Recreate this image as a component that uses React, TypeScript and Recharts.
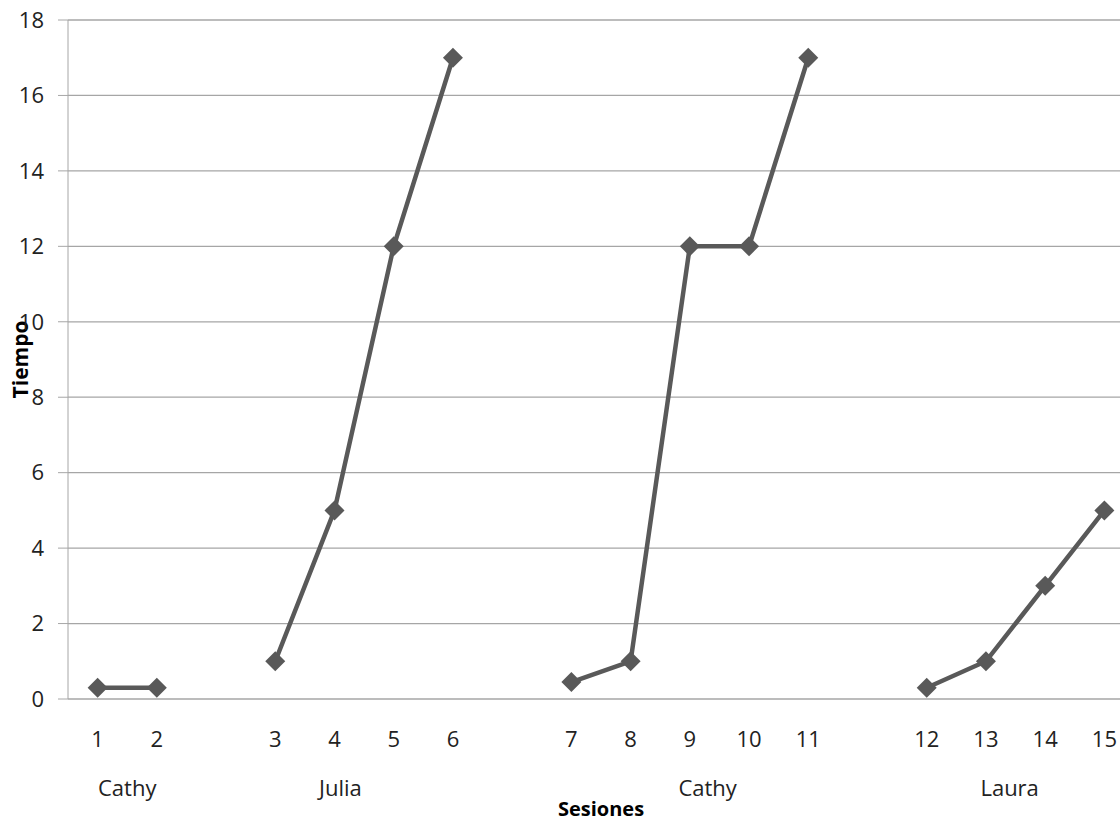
import React from 'react';
import { LineChart, Line, XAxis, YAxis, CartesianGrid } from 'recharts';

// Session labels per category slot (null = empty gap slot between groups)
const sessions: (string | null)[] = ['1', '2', null, '3', '4', '5', '6', null, '7', '8', '9', '10', '11', null, '12', '13', '14', '15'];
// Tiempo values per slot
const tiempo: (number | null)[] = [0.3, 0.3, null, 1, 5, 12, 17, null, 0.45, 1, 12, 12, 17, null, 0.3, 1, 3, 5];
// Group (participant) labels and the slot around which each is centred
const groupLabels = ['Cathy', 'Julia', 'Cathy', 'Laura'];
const groupSlots = [0.5, 4.1, 10.3, 15.4];
const yTicks = [0, 2, 4, 6, 8, 10, 12, 14, 16, 18];

const data = sessions.map((s, i) => ({ slot: i, session: s, tiempo: tiempo[i] }));

const LINE = '#595959';
const GRID = '#a6a6a6';
const FONT = '"Open Sans", "Liberation Sans", sans-serif';

const Diamond = (props: any) => {
  const { cx, cy, value, index } = props;
  if (value == null || cx == null || cy == null) return <g key={`d${index}`} />;
  const r = 10;
  return (
    <path
      key={`d${index}`}
      d={`M${cx} ${cy - r} L${cx + r} ${cy} L${cx} ${cy + r} L${cx - r} ${cy} Z`}
      fill={LINE}
    />
  );
};

const YLabel = (props: any) => {
  const { viewBox } = props;
  const x = viewBox.x + 20;
  const y = viewBox.y + viewBox.height / 2;
  return (
    <text
      x={x}
      y={y}
      transform={`rotate(-90 ${x} ${y})`}
      textAnchor="middle"
      dominantBaseline="central"
      fontFamily={FONT}
      fontWeight="bold"
      fontSize={21}
      fill="#000"
    >
      Tiempo
    </text>
  );
};

export default function App() {
  return (
    <div style={{ position: 'absolute', left: 0, top: 0, width: 1120, height: 822, overflow: 'hidden', background: '#fff' }}>
      <LineChart
        width={1150}
        height={840}
        data={data}
        margin={{ top: 20, right: 16, left: 0, bottom: 39 }}
      >
        <CartesianGrid vertical={false} stroke={GRID} strokeWidth={1.3} />
        <XAxis
          dataKey="slot"
          type="category"
          scale="band"
          interval={0}
          axisLine={false}
          tickLine={false}
          tickSize={0}
          tickMargin={32}
          height={62}
          tickFormatter={(v: number) => sessions[v] ?? ''}
          tick={{ fill: '#222', fontSize: 22, fontFamily: FONT }}
        />
        <XAxis
          xAxisId="g"
          dataKey="slot"
          type="number"
          domain={[-0.5, 17.5]}
          allowDataOverflow
          ticks={groupSlots}
          interval={0}
          axisLine={false}
          tickLine={false}
          tickSize={0}
          tickMargin={19}
          height={40}
          tickFormatter={(v: number) => groupLabels[groupSlots.indexOf(v)] ?? ''}
          tick={{ fill: '#222', fontSize: 22, fontFamily: FONT }}
          label={{ value: 'Sesiones', position: 'bottom', offset: 1, fill: '#000', fontSize: 20, fontWeight: 'bold', fontFamily: FONT }}
        />
        <YAxis
          width={68}
          domain={[0, 18]}
          ticks={yTicks}
          interval={0}
          stroke={GRID}
          tickSize={10}
          tickMargin={14}
          tick={{ fill: '#222', fontSize: 22, fontFamily: FONT }}
          label={<YLabel />}
        />
        <Line
          dataKey="tiempo"
          stroke={LINE}
          strokeWidth={4.5}
          dot={Diamond}
          activeDot={false}
          connectNulls={false}
          isAnimationActive={false}
        />
      </LineChart>
    </div>
  );
}
